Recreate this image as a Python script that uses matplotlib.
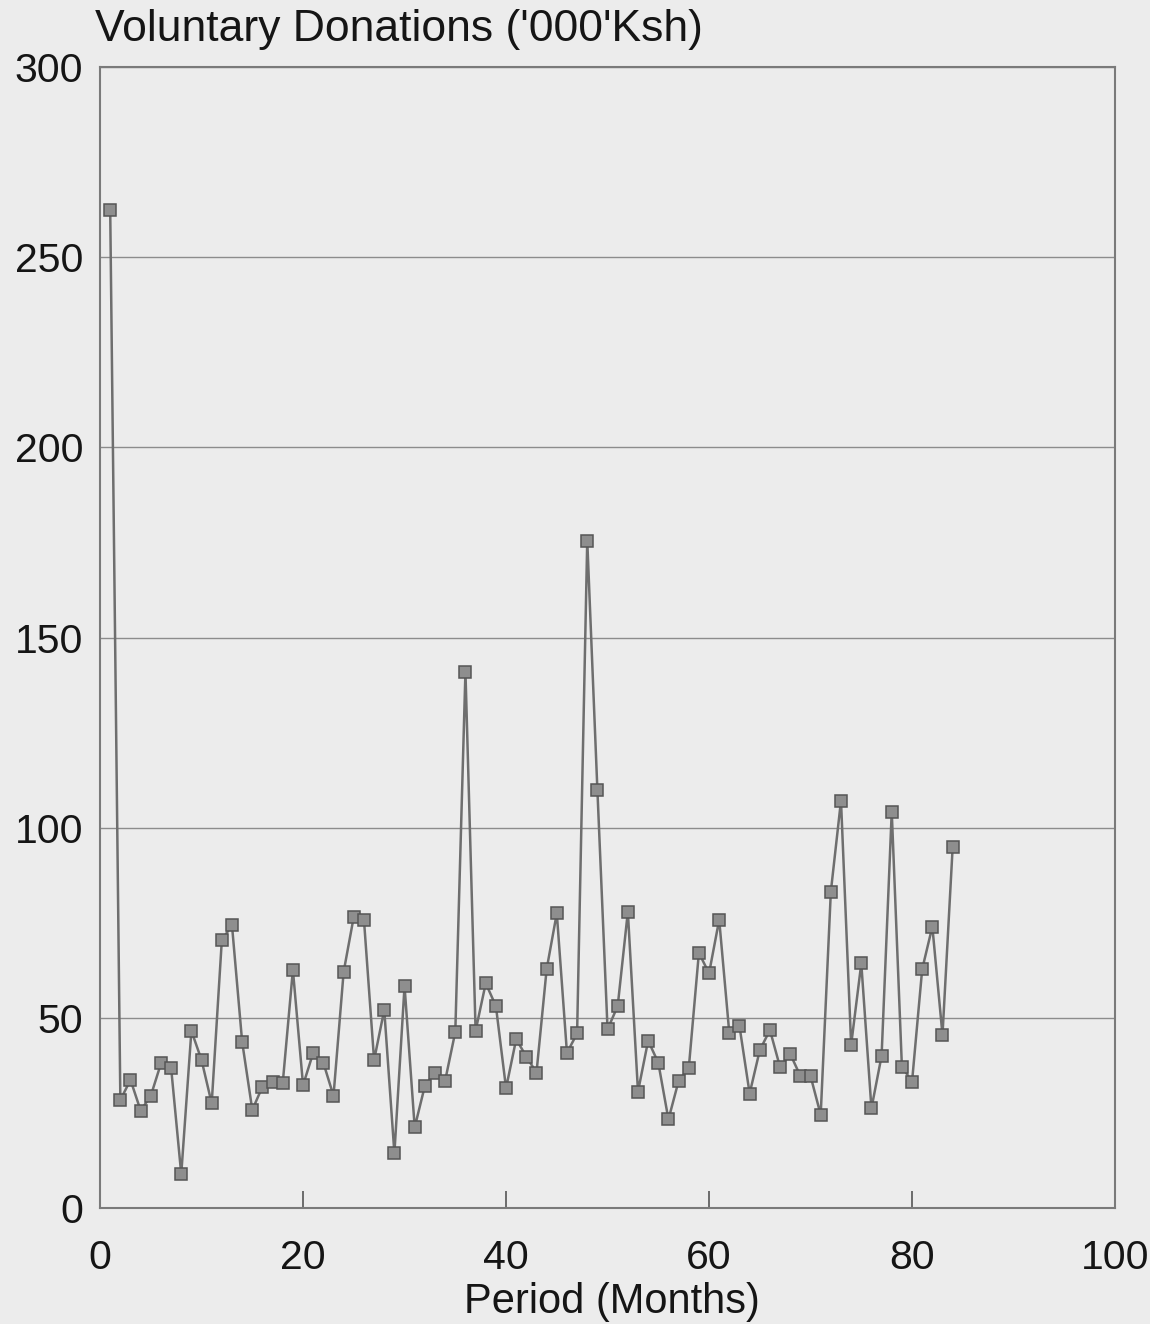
import matplotlib
matplotlib.use("Agg")
import matplotlib.pyplot as plt

# Monthly voluntary donations, thousands of Kenya shillings
months = list(range(1, 85))
donations = [
    262.4, 28.4, 33.7, 25.6, 29.5, 38.0, 36.9, 8.9, 46.6, 38.9,
    27.5, 70.5, 74.3, 43.7, 25.8, 31.9, 33.2, 32.9, 62.6, 32.3,
    40.8, 38.2, 29.5, 62.1, 76.6, 75.8, 38.9, 52.1, 14.4, 58.4,
    21.2, 32.1, 35.6, 33.5, 46.3, 141.0, 46.6, 59.1, 53.1, 31.5,
    44.4, 39.8, 35.6, 62.8, 77.5, 40.8, 45.9, 175.5, 109.9, 47.0,
    53.1, 77.9, 30.6, 44.0, 38.2, 23.3, 33.4, 36.7, 67.1, 61.7,
    75.8, 45.9, 47.8, 30.1, 41.5, 46.8, 37.0, 40.5, 34.7, 34.7,
    24.5, 83.2, 107.1, 42.9, 64.3, 26.2, 40.0, 104.2, 37.2, 33.2,
    62.8, 74.0, 45.5, 94.8,
]
x_ticks = [0, 20, 40, 60, 80, 100]
y_ticks = [0, 50, 100, 150, 200, 250, 300]

plt.rcParams['font.family'] = ['Liberation Sans', 'DejaVu Sans']

bg = '#ececec'
ink = '#151515'
fig = plt.figure(figsize=(11.5, 13.24), dpi=100, facecolor=bg)
ax = fig.add_axes([0.087, 0.0876, 0.8826, 0.8618], facecolor=bg)

ax.plot(months, donations, color='#6e6e6e', lw=1.8,
        marker='s', markersize=8, markerfacecolor='#8e8e8e',
        markeredgecolor='#555555', markeredgewidth=1.1)

ax.set_xlim(0, 100)
ax.set_ylim(0, 300)
ax.set_xticks(x_ticks)
ax.set_yticks(y_ticks)
ax.yaxis.grid(True, color='#8c8c8c', lw=1.0)
ax.set_axisbelow(True)

for s in ax.spines.values():
    s.set_color('#7a7a7a')
    s.set_linewidth(1.5)

ax.tick_params(axis='x', direction='in', length=12, width=1.2, color='#555555',
               labelsize=29.5, pad=22, labelcolor=ink)
ax.tick_params(axis='y', length=0, labelsize=29.5, pad=12, labelcolor=ink)

fig.text(0.083, 0.9775, "Voluntary Donations ('000'Ksh)", fontsize=32,
         color=ink, ha='left', va='center')
fig.text(0.532, 0.0165, "Period (Months)", fontsize=30,
         color=ink, ha='center', va='center')

fig.savefig('out.png', dpi=100, facecolor=bg)
